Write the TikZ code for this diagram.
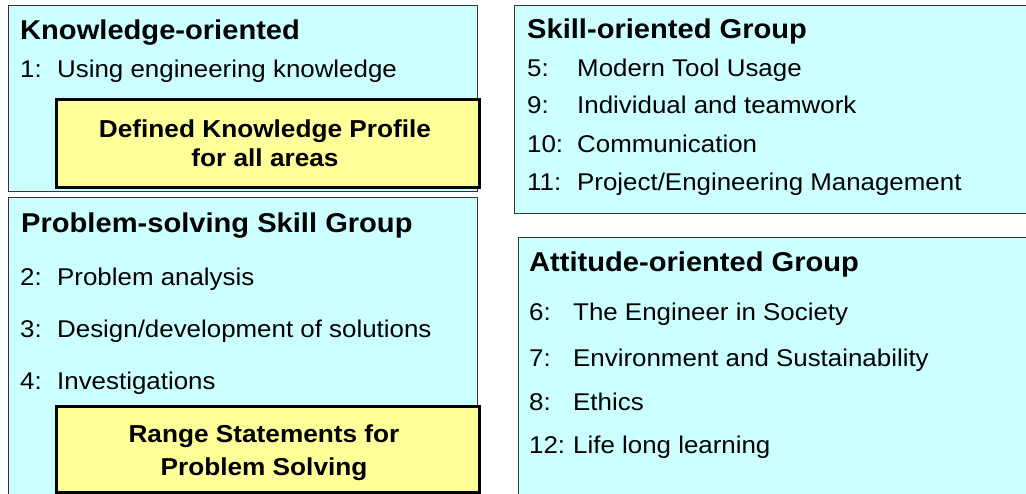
\documentclass[tikz,border=0pt]{standalone}
\usepackage{fontspec}
\setmainfont{Liberation Sans}[FakeStretch=1.07]
\definecolor{boxcyan}{HTML}{CCFFFF}
\definecolor{boxyellow}{HTML}{FFFF99}
\definecolor{edgegray}{HTML}{333333}
\tikzset{
  groupbox/.style={draw=edgegray, line width=1pt, fill=boxcyan, anchor=north west, inner sep=0pt},
  notebox/.style={draw=black, line width=2.6pt, fill=boxyellow, anchor=north west, inner sep=0pt},
  title/.style={font=\bfseries\fontsize{27.2}{32}\selectfont, anchor=base west, inner sep=0pt},
  item/.style={font=\fontsize{24.2}{29}\selectfont, anchor=base west, inner sep=0pt},
  ytext/.style={font=\bfseries\fontsize{24.5}{29}\selectfont, anchor=base, inner sep=0pt}
}
\begin{document}
\begin{tikzpicture}[x=1pt,y=-1pt]
\useasboundingbox (0,0) rectangle (1026,493);
\clip (0,0) rectangle (1026,493);
% group boxes
\node[groupbox, minimum width=469pt, minimum height=186pt] (boxA) at (8,5) {};
\node[groupbox, minimum width=469pt, minimum height=310pt] (boxB) at (8,197) {};
\node[groupbox, minimum width=520pt, minimum height=208pt] (boxC) at (514,5) {};
\node[groupbox, minimum width=520pt, minimum height=270pt] (boxD) at (518,237) {};
% yellow boxes
\node[notebox, minimum width=423pt, minimum height=88pt] (yA) at (55,98) {};
\node[notebox, minimum width=423pt, minimum height=86pt] (yB) at (55,405) {};
% Knowledge-oriented
\node[title] (tA) at (20,39) {Knowledge-oriented};
\node[item] (n1) at (20,77) {1:};
\node[item] (i1) at (57,77) {Using engineering knowledge};
\node[ytext] (yA1) at (265,137) {Defined Knowledge Profile};
\node[ytext] (yA2) at (265,166) {for all areas};
% Problem-solving
\node[title] (tB) at (21,232) {Problem-solving Skill Group};
\node[item] (n2) at (20,285) {2:};
\node[item] (i2) at (57,285) {Problem analysis};
\node[item] (n3) at (20,337) {3:};
\node[item] (i3) at (57,337) {Design/development of solutions};
\node[item] (n4) at (20,389) {4:};
\node[item] (i4) at (57,389) {Investigations};
\node[ytext] (yB1) at (264,442) {Range Statements for};
\node[ytext] (yB2) at (264,475) {Problem Solving};
% Skill-oriented
\node[title] (tC) at (527,38) {Skill-oriented Group};
\node[item] (n5) at (527,76) {5:};
\node[item] (i5) at (577,76) {Modern Tool Usage};
\node[item] (n9) at (527,113) {9:};
\node[item] (i9) at (577,113) {Individual and teamwork};
\node[item] (n10) at (527,152) {10:};
\node[item] (i10) at (577,152) {Communication};
\node[item] (n11) at (527,190) {11:};
\node[item] (i11) at (577,190) {Project/Engineering Management};
% Attitude-oriented
\node[title] (tD) at (529,271) {Attitude-oriented Group};
\node[item] (n6) at (529,320) {6:};
\node[item] (i6) at (573,320) {The Engineer in Society};
\node[item] (n7) at (529,366) {7:};
\node[item] (i7) at (573,366) {Environment and Sustainability};
\node[item] (n8) at (529,410) {8:};
\node[item] (i8) at (573,410) {Ethics};
\node[item] (n12) at (529,453) {12:};
\node[item] (i12) at (573,453) {Life long learning};
\end{tikzpicture}
\end{document}
